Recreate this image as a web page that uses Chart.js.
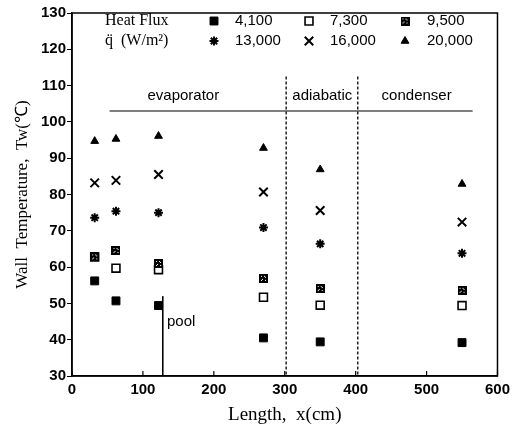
<!DOCTYPE html>
<html><head><meta charset="utf-8">
<script src="https://cdn.jsdelivr.net/npm/chart.js@4/dist/chart.umd.min.js"></script>
<style>html,body{margin:0;padding:0;background:#fff}canvas{display:block}</style>
</head><body>
<canvas id="c" width="515" height="430"></canvas>
<script>
// ---- data ----
const lengthX   = [32, 62, 122, 270, 350, 550];
const q4100     = [56.2, 50.7, 49.4, 40.5, 39.4, 39.2];
const q7300     = [62.8, 59.7, 59.3, 51.7, 49.5, 49.4];
const q9500     = [62.8, 64.6, 61.0, 56.9, 54.1, 53.6];
const q13000    = [73.6, 75.4, 75.0, 70.9, 66.4, 63.8];
const q16000    = [83.2, 83.9, 85.5, 80.7, 75.6, 72.4];
const q20000    = [94.7, 95.3, 96.1, 92.8, 86.9, 82.9];
const seriesLabels = ['4,100', '7,300', '9,500', '13,000', '16,000', '20,000'];
const xTicks = [0, 100, 200, 300, 400, 500, 600];
const yTicks = [30, 40, 50, 60, 70, 80, 90, 100, 110, 120, 130];
const regionNames = ['evaporator', 'adiabatic', 'condenser'];
const regionCenterX = [157, 353, 486];
const regionLabelY = 107.2;
const dividerX = [302, 403];
const dividerTop = 112.5;
const sectionLineY = 103;
const sectionLineX = [53, 565];
const poolX = 128;
const poolTop = 52;
const poolLabel = ['pool', 134, 44.8];

// patterned square marker
function patternSquare(){
  const s = 9, cv = document.createElement('canvas');
  cv.width = s; cv.height = s;
  const g = cv.getContext('2d');
  g.fillStyle = '#000'; g.fillRect(0,0,s,s);
  g.fillStyle = '#fff';
  [[2,2],[5,2],[3,5],[6,6],[2,6],[6,3]].forEach(p=>g.fillRect(p[0],p[1],1,1));
  return cv;
}
const pat = patternSquare();

const styles = [
  {pointStyle:'rect', radius:5.6, bg:'#000', bw:1, order:0},
  {pointStyle:'rect', radius:5.6, bg:'#fff', bw:1.6, order:0},
  {pointStyle:pat, radius:5, bg:'#000', bw:1, order:-1},
  {pointStyle:'star', radius:4.5, bg:'#000', bw:2, order:0},
  {pointStyle:'crossRot', radius:6, bg:'#000', bw:2, order:0},
  {pointStyle:'triangle', radius:4.5, bg:'#000', bw:1, order:0},
];
const allSeries = [q4100, q7300, q9500, q13000, q16000, q20000];
const datasets = allSeries.map((s, i) => ({
  label: seriesLabels[i],
  data: lengthX.map((x, j) => ({x: x, y: s[j]})),
  order: styles[i].order,
  pointStyle: styles[i].pointStyle,
  pointRadius: styles[i].radius,
  pointBackgroundColor: styles[i].bg,
  pointBorderColor: '#000',
  pointBorderWidth: styles[i].bw,
  showLine: false
}));

const sans = "'Liberation Sans', Arial, sans-serif";
const serif = "'Liberation Serif', 'Times New Roman', serif";

const decor = {
  id: 'decor',
  beforeDatasetsDraw(chart){
    const {ctx, chartArea:a, scales:{x, y}} = chart;
    ctx.save();
    ctx.strokeStyle = '#000';
    ctx.lineWidth = 1.3;
    ctx.setLineDash([3, 2]);
    dividerX.forEach(v => {
      const px = x.getPixelForValue(v);
      ctx.beginPath(); ctx.moveTo(px, y.getPixelForValue(dividerTop)); ctx.lineTo(px, a.bottom); ctx.stroke();
    });
    ctx.setLineDash([]);
    ctx.lineWidth = 1.2;
    const ly = y.getPixelForValue(sectionLineY);
    ctx.beginPath(); ctx.moveTo(x.getPixelForValue(sectionLineX[0]), ly); ctx.lineTo(x.getPixelForValue(sectionLineX[1]), ly); ctx.stroke();
    ctx.lineWidth = 1.6;
    const pp = x.getPixelForValue(poolX);
    ctx.beginPath(); ctx.moveTo(pp, y.getPixelForValue(poolTop)); ctx.lineTo(pp, a.bottom); ctx.stroke();
    ctx.fillStyle = '#000';
    ctx.font = '15px ' + sans;
    ctx.textBaseline = 'middle';
    ctx.textAlign = 'center';
    regionNames.forEach((n, i) => ctx.fillText(n, x.getPixelForValue(regionCenterX[i]), y.getPixelForValue(regionLabelY)));
    ctx.textAlign = 'left';
    ctx.fillText(poolLabel[0], x.getPixelForValue(poolLabel[1]), y.getPixelForValue(poolLabel[2]));
    ctx.restore();
  },
  afterDraw(chart){
    const {ctx, chartArea:a, scales:{x}} = chart;
    ctx.save();
    ctx.strokeStyle = '#000';
    ctx.lineWidth = 1.5;
    ctx.strokeRect(a.left, a.top, a.right - a.left, a.bottom - a.top);
    ctx.lineWidth = 1.2;
    xTicks.forEach(v => {
      const px = x.getPixelForValue(v);
      ctx.beginPath(); ctx.moveTo(px, a.bottom); ctx.lineTo(px, a.bottom - 5); ctx.stroke();
    });
    ctx.fillStyle = '#000';
    ctx.textBaseline = 'middle';
    ctx.textAlign = 'left';
    ctx.font = '16px ' + serif;
    ctx.fillText('Heat Flux', a.left + 33, a.top + 8);
    ctx.fillText('q\u0308  (W/m\u00b2)', a.left + 33, a.top + 28);
    ctx.font = '15px ' + sans;
    const mx = [142, 237, 333], tx = [163, 258, 355], ry = [8, 28];
    chart.data.datasets.forEach((d, i) => {
      const col = i % 3, row = Math.floor(i / 3);
      const px = a.left + mx[col], py = a.top + ry[row];
      ctx.fillStyle = d.pointBackgroundColor;
      ctx.strokeStyle = '#000';
      ctx.lineWidth = d.pointBorderWidth;
      Chart.helpers.drawPoint(ctx, {pointStyle: d.pointStyle, radius: d.pointRadius, rotation: 0, borderWidth: d.pointBorderWidth}, px, py);
      ctx.fillStyle = '#000';
      ctx.fillText(d.label, a.left + tx[col], py);
    });
    ctx.restore();
  }
};

new Chart(document.getElementById('c'), {
  type: 'scatter',
  data: {datasets},
  plugins: [decor],
  options: {
    responsive: false,
    animation: false,
    devicePixelRatio: 1,
    layout: {padding: {top: 13, right: 13, left: 0, bottom: 0}},
    plugins: {legend: {display: false}, tooltip: {enabled: false}},
    scales: {
      x: {
        type: 'linear', min: 0, max: 600,
        afterBuildTicks: s => { s.ticks = xTicks.map(v => ({value: v})); },
        afterFit: s => { s.height = 54; },
        grid: {drawOnChartArea: false, drawTicks: false, color: '#000'},
        border: {display: true, color: '#000', width: 1.5},
        ticks: {color: '#000', font: {family: sans, size: 15, weight: 'bold'}, padding: 5, maxRotation: 0},
        title: {display: true, text: 'Length,  x(cm)', color: '#000', font: {family: serif, size: 19}, padding: {top: 0, bottom: 4}}
      },
      y: {
        type: 'linear', min: 30, max: 130,
        afterBuildTicks: s => { s.ticks = yTicks.map(v => ({value: v})); },
        afterFit: s => { s.width = 72; },
        grid: {drawOnChartArea: false, drawTicks: true, tickLength: 5, color: '#000'},
        border: {display: true, color: '#000', width: 1.5},
        ticks: {color: '#000', font: {family: sans, size: 15, weight: 'bold'}, padding: 1},
        title: {display: true, text: 'Wall  Temperature,  Tw(\u2103)', color: '#000', font: {family: serif, size: 17}, padding: {top: 12, bottom: 0}}
      }
    }
  }
});
</script>
</body></html>
